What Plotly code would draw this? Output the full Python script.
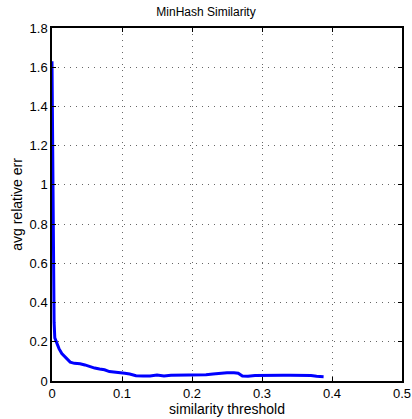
import plotly.graph_objects as go

threshold = [0.0, 0.001, 0.002, 0.003, 0.004, 0.006, 0.008, 0.010, 0.014, 0.018, 0.022, 0.026,
             0.032, 0.040, 0.047, 0.054, 0.061, 0.068, 0.075, 0.082, 0.090, 0.097, 0.104,
             0.111, 0.120, 0.130, 0.140, 0.150, 0.160, 0.170, 0.180, 0.190, 0.200, 0.210,
             0.220, 0.230, 0.240, 0.250, 0.260, 0.266, 0.272, 0.280, 0.290, 0.300, 0.310,
             0.320, 0.330, 0.340, 0.350, 0.360, 0.370, 0.378, 0.388]
avg_err = [1.63, 1.2, 0.6, 0.3, 0.22, 0.2, 0.18, 0.165, 0.14, 0.125, 0.11, 0.096,
           0.09, 0.088, 0.082, 0.073, 0.066, 0.061, 0.057, 0.048, 0.046, 0.043, 0.040,
           0.036, 0.027, 0.026, 0.026, 0.030, 0.026, 0.029, 0.030, 0.030, 0.030, 0.030,
           0.032, 0.036, 0.040, 0.042, 0.042, 0.040, 0.025, 0.024, 0.028, 0.029, 0.029,
           0.029, 0.029, 0.029, 0.029, 0.029, 0.028, 0.024, 0.022]

fig = go.Figure()
fig.add_trace(go.Scatter(x=threshold, y=avg_err, mode="lines",
                         line=dict(color="#0000ff", width=3), showlegend=False))

axis_common = dict(
    showgrid=True, gridcolor="#666666", griddash="1px,5px", gridwidth=1,
    showline=True, linecolor="black", linewidth=1.5, mirror="ticks",
    ticks="inside", ticklen=4, tickcolor="black",
    zeroline=False, tickfont=dict(size=13, color="black"),
    ticklabeloverflow="allow",
)
fig.update_xaxes(range=[0, 0.5], tickvals=[0, 0.1, 0.2, 0.3, 0.4, 0.5],
                 ticktext=["0", "0.1", "0.2", "0.3", "0.4", "0.5"],
                 title=dict(text="similarity threshold", font=dict(size=14, color="black"), standoff=0),
                 automargin=False, **axis_common)
fig.update_yaxes(range=[0, 1.8], tickvals=[0, 0.2, 0.4, 0.6, 0.8, 1, 1.2, 1.4, 1.6, 1.8],
                 ticktext=["0", "0.2", "0.4", "0.6", "0.8", "1", "1.2", "1.4", "1.6", "1.8"],
                 title=dict(text="avg relative err", font=dict(size=14, color="black"), standoff=4),
                 automargin=False, **axis_common)
fig.update_layout(
    width=412, height=419,
    margin=dict(l=52, r=10, t=28, b=38),
    paper_bgcolor="white", plot_bgcolor="white",
    font=dict(family="Liberation Sans, Arial, sans-serif", color="black"),
    title=dict(text="MinHash Similarity", x=0.5, xanchor="center", y=0.982, yanchor="top",
               font=dict(size=12, color="black")),
)
fig.write_html("out.html", config={"displayModeBar": False},
               post_script="document.body.style.margin='0';document.body.style.overflow='hidden';")
